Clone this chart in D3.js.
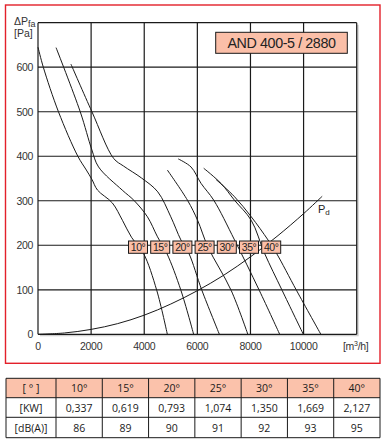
<!DOCTYPE html>
<html><head><meta charset="utf-8">
<script src="https://cdn.jsdelivr.net/npm/d3@7"></script>
<style>
html,body{margin:0;padding:0;background:#fff;}
svg{display:block;}
</style></head>
<body>
<svg id="c" width="387" height="443"></svg>
<script>
// ---------- data ----------
const angleLabels = ["10°","15°","20°","25°","30°","35°","40°"];
const curve10 = [[0,645],[200,600],[770,500],[1500,400],[1820,369],[2030,348],[2240,324],[2800,295],[3180,256],[3520,218],[3970,182],[4470,99],[4870,0]];
const curve15 = [[680,644],[1590,500],[2030,414],[2280,376],[3170,324],[3610,301],[4120,264],[4500,219],[4850,182],[5380,99],[5860,0]];
const curve20 = [[1240,607],[2030,500],[2850,395],[3220,378],[3900,351],[4510,320],[5000,264],[5380,212],[5680,182],[6170,99],[6830,0]];
const curve25 = [[4870,369],[5630,301],[6010,256],[6400,196],[7270,99],[7900,0]];
const curve30 = [[5280,394],[5760,376],[6140,339],[6620,301],[7400,212],[8330,99],[9100,0]];
const curve35 = [[6240,373],[6890,339],[7400,301],[8030,256],[8530,182],[9190,99],[9990,0]];
const curve40 = [[6700,348],[7400,309],[8030,264],[8660,212],[8980,182],[9730,99],[10650,0]];
const pdCurve = [[0,0],[1000,3],[2000,11],[3000,24],[4000,43],[5000,68],[6000,98],[7000,133],[8000,174],[9000,220],[10000,271],[10700,310]];
const xTicks = [0,2000,4000,6000,8000,10000];
const yTicks = [0,100,200,300,400,500,600];
const xGrid = [0,2000,4000,6000,8000,10000,12000];
const yGrid = [0,100,200,300,400,500,600,700];
const title = "AND 400-5 / 2880";
const tableHead = ["[ ° ]","10°","15°","20°","25°","30°","35°","40°"];
const powerKW = ["0,337","0,619","0,793","1,074","1,350","1,669","2,127"];
const noiseDb = ["86","89","90","91","92","93","95"];

// ---------- layout ----------
const svg = d3.select("#c");
const L = 38, R = 356.7, T = 22.7, B = 334.3;
const x = d3.scaleLinear().domain([0,12000]).range([L,R]);
const y = d3.scaleLinear().domain([0,700]).range([B,T]);
const chartFont = "'Liberation Sans', Arial, sans-serif";
const ink = "#1a1a1a";

// red frame
svg.append("rect").attr("x",5.5).attr("y",5).attr("width",374.5).attr("height",358.3)
  .attr("fill","none").attr("stroke","#e3202a").attr("stroke-width",1.4);

// plot shadow
svg.append("rect").attr("x",L+2).attr("y",T+2).attr("width",R-L).attr("height",B-T)
  .attr("fill","#cfcfcf");
svg.append("rect").attr("x",L).attr("y",T).attr("width",R-L).attr("height",B-T)
  .attr("fill","#fff");

// grid
const g = svg.append("g");
g.selectAll(".vx").data(xGrid).join("line")
  .attr("x1",d=>x(d)).attr("x2",d=>x(d)).attr("y1",B).attr("y2",T)
  .attr("stroke",ink).attr("stroke-width",1.2);
g.selectAll(".hy").data(yGrid).join("line")
  .attr("y1",d=>y(d)).attr("y2",d=>y(d)).attr("x1",L).attr("x2",R)
  .attr("stroke",ink).attr("stroke-width",1.2);

// tick labels
svg.append("g").selectAll("text").data(xTicks).join("text")
  .attr("x",d=>x(d)).attr("y",350).attr("text-anchor","middle")
  .attr("font-family",chartFont).attr("font-size",10.5).attr("fill","#333")
  .attr("letter-spacing",-0.3).text(d=>d);
svg.append("g").selectAll("text").data(yTicks).join("text")
  .attr("x",33).attr("y",d=>y(d)+3.8).attr("text-anchor","end")
  .attr("font-family",chartFont).attr("font-size",10.5).attr("fill","#333")
  .attr("letter-spacing",-0.3).text(d=>d);

// axis titles
const yt = svg.append("text").attr("x",14).attr("y",24.5)
  .attr("font-family",chartFont).attr("font-size",10.5).attr("fill","#333");
yt.append("tspan").text("ΔP");
yt.append("tspan").attr("font-size",9).attr("dy",2).text("fa");
svg.append("text").attr("x",14).attr("y",37).attr("font-family",chartFont)
  .attr("font-size",10.5).attr("fill","#333").text("[Pa]");
const xt = svg.append("text").attr("x",343).attr("y",350).attr("font-family",chartFont)
  .attr("font-size",10.5).attr("fill","#333").attr("letter-spacing",-0.3);
xt.append("tspan").text("[m");
xt.append("tspan").attr("font-size",7).attr("dy",-4).text("3");
xt.append("tspan").attr("dy",4).text("/h]");

// curves
const line = d3.line().x(d=>x(d[0])).y(d=>y(d[1])).curve(d3.curveCatmullRom.alpha(0.5));
const curves = [curve10,curve15,curve20,curve25,curve30,curve35,curve40];
svg.append("g").selectAll("path").data(curves).join("path")
  .attr("d",line).attr("fill","none").attr("stroke",ink).attr("stroke-width",1);
svg.append("path").datum(pdCurve).attr("d",line).attr("fill","none")
  .attr("stroke",ink).attr("stroke-width",1);

// Pd label
const pdl = svg.append("text").attr("x",318).attr("y",213).attr("font-family",chartFont)
  .attr("font-size",11).attr("fill","#222");
pdl.append("tspan").text("P");
pdl.append("tspan").attr("font-size",8).attr("dy",1.5).text("d");

// title box
svg.append("rect").attr("x",215.7).attr("y",32.3).attr("width",131.6).attr("height",21)
  .attr("fill","#fbbfa8").attr("stroke",ink).attr("stroke-width",1);
svg.append("text").attr("x",281.5).attr("y",47.8).attr("text-anchor","middle")
  .attr("font-family",chartFont).attr("font-size",14.3).attr("fill","#222")
  .attr("letter-spacing",-0.4).text(title);

// angle label boxes
const lb = svg.append("g").selectAll("g").data(angleLabels).join("g")
  .attr("transform",(d,i)=>`translate(${128.5+i*22.2},241)`);
lb.append("rect").attr("width",19).attr("height",12.3)
  .attr("fill","#fbbfa8").attr("stroke",ink).attr("stroke-width",1);
lb.append("text").attr("x",9.5).attr("y",10).attr("text-anchor","middle")
  .attr("font-family",chartFont).attr("font-size",10.5).attr("fill","#222")
  .attr("letter-spacing",-0.5).text(d=>d);

// ---------- table ----------
const tblFont = "'Open Sans', 'Noto Sans', sans-serif";
const colX = [6,56];
for (let i=1;i<=7;i++) colX.push(56 + i*(380-56)/7);
const rowY = [378.3,397.7,417.3,437.7];
const rows = [tableHead, ["[KW]"].concat(powerKW), ["[dB(A)]"].concat(noiseDb)];
const tg = svg.append("g");
tg.append("rect").attr("x",colX[0]).attr("y",rowY[0]).attr("width",colX[8]-colX[0])
  .attr("height",rowY[1]-rowY[0]).attr("fill","#fbc2ab");
rows.forEach((r,ri)=>{
  tg.selectAll(null).data(r).join("text")
    .attr("x",(d,ci)=>(colX[ci]+colX[ci+1])/2)
    .attr("y",(rowY[ri]+rowY[ri+1])/2+4)
    .attr("text-anchor","middle").attr("font-family",tblFont).attr("font-size",10.5)
    .attr("fill","#1a1a1a").text(d=>d);
});
tg.selectAll(".rl").data(rowY).join("line").attr("x1",colX[0]).attr("x2",colX[8])
  .attr("y1",d=>d).attr("y2",d=>d).attr("stroke",ink).attr("stroke-width",1);
tg.selectAll(".cl").data(colX).join("line").attr("y1",rowY[0]).attr("y2",rowY[3])
  .attr("x1",d=>d).attr("x2",d=>d).attr("stroke",ink).attr("stroke-width",1);
</script>
</body></html>
